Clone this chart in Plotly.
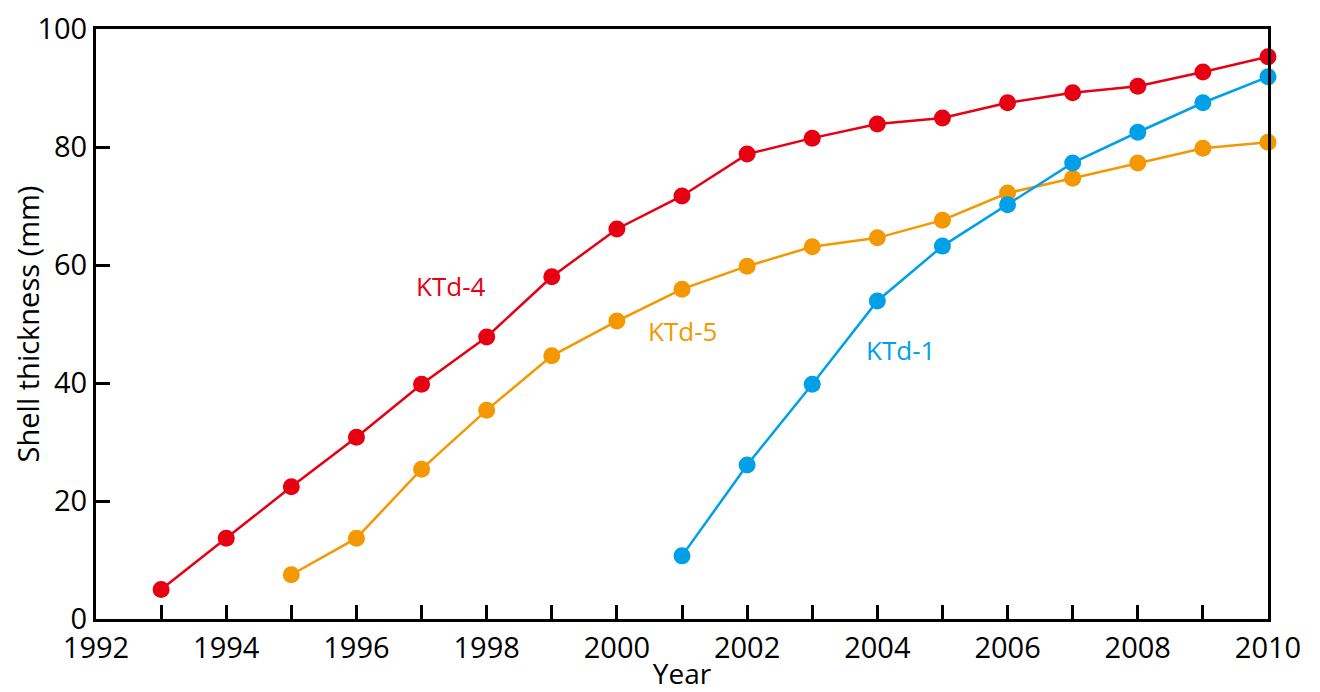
import plotly.graph_objects as go

years_ktd4 = list(range(1993, 2011))
ktd4 = [5.0, 13.7, 22.4, 30.8, 39.8, 47.8, 58.0, 66.1, 71.7, 78.8, 81.5, 83.9, 84.9, 87.5, 89.2, 90.3, 92.7, 95.3]

years_ktd5 = list(range(1995, 2011))
ktd5 = [7.5, 13.7, 25.4, 35.4, 44.6, 50.5, 55.9, 59.8, 63.1, 64.6, 67.6, 72.2, 74.7, 77.3, 79.8, 80.8]

years_ktd1 = list(range(2001, 2011))
ktd1 = [10.7, 26.1, 39.8, 53.9, 63.2, 70.2, 77.3, 82.5, 87.5, 91.9]

series_names = ["KTd-4", "KTd-5", "KTd-1"]
colors = ["#E60012", "#F39800", "#00A0E9"]
label_pos = [(1997.45, 56.4), (2001.0, 48.8), (2004.35, 45.6)]

x_tickvals = list(range(1992, 2011))
x_ticktext = [str(y) if y % 2 == 0 else "" for y in x_tickvals]
y_tickvals = [0, 20, 40, 60, 80, 100]

FONT = "Open Sans"

fig = go.Figure()
for name, xs, ys, c in zip(series_names, [years_ktd4, years_ktd5, years_ktd1], [ktd4, ktd5, ktd1], colors):
    fig.add_trace(go.Scatter(x=xs, y=ys, mode="lines+markers", name=name,
                             line=dict(color=c, width=2.5),
                             marker=dict(color=c, size=17),
                             cliponaxis=False))

for name, (lx, ly), c in zip(series_names, label_pos, colors):
    fig.add_annotation(x=lx, y=ly, text=name, showarrow=False,
                       font=dict(family=FONT, size=26, color=c))

# page body has an 8px margin, so the figure is offset by 8px
fig.update_layout(
    width=1312, height=684,
    margin=dict(l=88, r=52, t=21, b=73, autoexpand=False),
    plot_bgcolor="white", paper_bgcolor="white",
    showlegend=False,
    font=dict(family=FONT, color="black"),
)
fig.update_xaxes(range=[1992, 2010], tickvals=x_tickvals, ticktext=x_ticktext,
                 ticks="inside", ticklen=14, tickwidth=2.5, tickcolor="black",
                 showline=True, linecolor="black", linewidth=3, mirror=True,
                 showgrid=False, zeroline=False, automargin=False,
                 ticklabelstandoff=1,
                 tickfont=dict(family=FONT, size=29, color="black"),
                 title=dict(text="Year", font=dict(family=FONT, size=28, color="black"), standoff=3))
fig.update_yaxes(range=[0, 100], tickvals=y_tickvals,
                 ticks="inside", ticklen=14, tickwidth=2.5, tickcolor="black",
                 showline=True, linecolor="black", linewidth=3, mirror=True,
                 showgrid=False, zeroline=False, automargin=False,
                 tickfont=dict(family=FONT, size=29, color="black"),
                 title=dict(text="Shell thickness (mm)", font=dict(family=FONT, size=29, color="black"), standoff=2))

fig.write_html("out.html")
